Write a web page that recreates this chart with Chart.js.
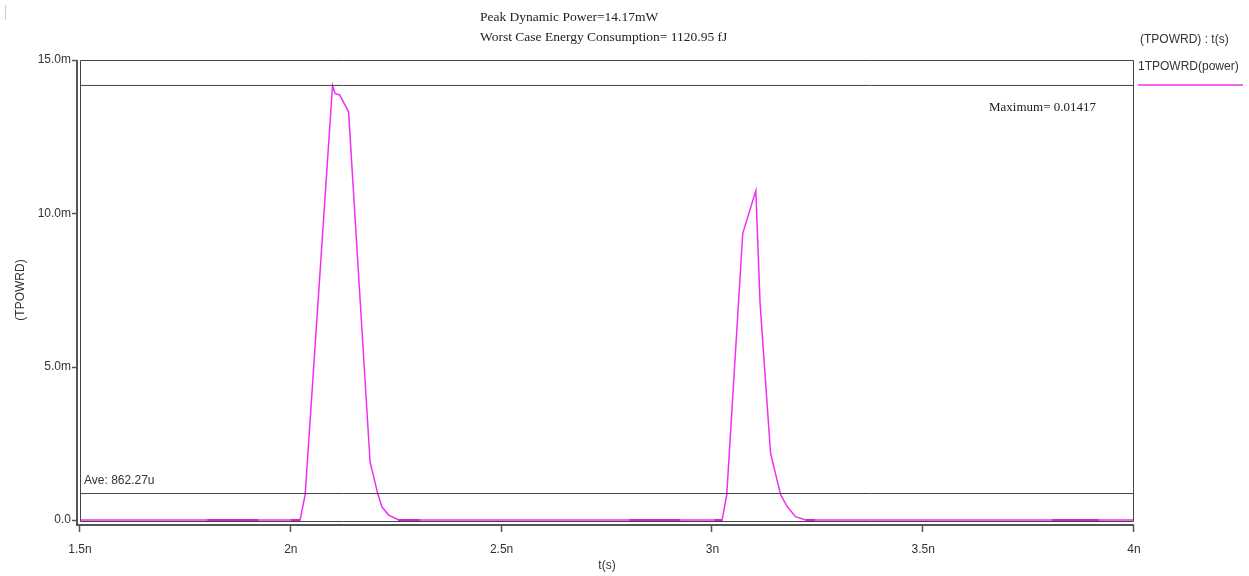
<!DOCTYPE html>
<html>
<head>
<meta charset="utf-8">
<script src="https://cdn.jsdelivr.net/npm/chart.js@4"></script>
<style>
  html, body { margin: 0; padding: 0; background: #fff; }
  #wrap { width: 1249px; height: 576px; position: relative; }
</style>
</head>
<body>
<div id="wrap"><canvas id="powerChart" width="1249" height="576"></canvas></div>
<script>
// Trace 1TPOWRD(power): time in ns, power in mW
const timeNs  = [1.5, 2.022, 2.034, 2.099, 2.105, 2.116, 2.137, 2.188, 2.206, 2.216, 2.232, 2.256,
                 3.023, 3.034, 3.072, 3.103, 3.113, 3.138, 3.162, 3.178, 3.197, 3.221, 4.0];
const powerMw = [0, 0, 0.82, 14.17, 13.91, 13.86, 13.31, 1.90, 0.87, 0.43, 0.16, 0,
                 0, 0.82, 9.35, 10.74, 7.08, 2.17, 0.82, 0.43, 0.11, 0, 0];

// darker overlay segments lying on the zero line (ns)
const darkStartNs = [1.802, 2.001, 2.255, 2.803, 3.005, 3.221, 3.805];
const darkEndNs   = [1.923, 2.022, 2.307, 2.924, 3.024, 3.243, 3.917];

// marker lines
const peakPower = 14.17;    // mW
const avePower = 0.86227;   // mW

// axes
const xTicks = [1.5, 2, 2.5, 3, 3.5, 4];
const xTickLabels = ['1.5n', '2n', '2.5n', '3n', '3.5n', '4n'];
const yTicks = [0, 5, 10, 15];
const yTickLabels = ['0.0', '5.0m', '10.0m', '15.0m'];

const titleLines = ['Peak Dynamic Power=14.17mW', 'Worst Case Energy Consumption= 1120.95 fJ'];

const PINK = '#f030f0';
const DARK = '#7a0a7a';
const LINE = '#444';
const TEXT = '#333';
const SANS = '"Liberation Sans", Arial, sans-serif';
const SERIF = '"Liberation Serif", "Times New Roman", serif';

const traceData = timeNs.map((t, i) => ({ x: t, y: powerMw[i] }));
const darkData = [];
darkStartNs.forEach((s, i) => {
    darkData.push({ x: s, y: 0 }, { x: darkEndNs[i], y: 0 }, { x: darkEndNs[i], y: null });
});
const hLine = v => [{ x: xTicks[0], y: v }, { x: xTicks[xTicks.length - 1], y: v }];

// frame, offset axis lines, tick marks and text notes
const decor = {
    id: 'decor',
    afterDatasetsDraw(chart) {
        const { ctx, chartArea: a, scales: { x, y } } = chart;
        ctx.save();
        ctx.strokeStyle = LINE;
        ctx.lineWidth = 1;
        // plot frame
        ctx.beginPath();
        ctx.moveTo(a.left + 0.5, a.bottom + 1.5);
        ctx.lineTo(a.left + 0.5, a.top + 0.5);
        ctx.lineTo(a.right - 0.5, a.top + 0.5);
        ctx.lineTo(a.right - 0.5, a.bottom + 1.5);
        ctx.lineTo(a.left + 0.5, a.bottom + 1.5);
        ctx.stroke();
        // axis lines
        ctx.strokeStyle = '#555';
        ctx.lineWidth = 2;
        ctx.beginPath();
        ctx.moveTo(a.left - 3, a.top);
        ctx.lineTo(a.left - 3, a.bottom + 5);
        ctx.lineTo(a.right, a.bottom + 5);
        ctx.stroke();
        ctx.lineWidth = 1.5;
        ctx.beginPath();
        xTicks.forEach(v => {
            const px = Math.round(x.getPixelForValue(v)) - 0.5;
            ctx.moveTo(px, a.bottom + 5);
            ctx.lineTo(px, a.bottom + 12);
        });
        yTicks.forEach(v => {
            const py = Math.round(y.getPixelForValue(v)) + 0.5;
            ctx.moveTo(a.left - 3, py);
            ctx.lineTo(a.left - 8, py);
        });
        ctx.stroke();

        // title
        ctx.fillStyle = '#222';
        ctx.font = '13.5px ' + SERIF;
        ctx.textAlign = 'left';
        ctx.textBaseline = 'middle';
        ctx.fillText(titleLines[0], 480, 17);
        ctx.fillText(titleLines[1], 480, 37);
        // max note
        ctx.font = '13px ' + SERIF;
        ctx.fillText('Maximum= ' + (peakPower / 1000).toFixed(5), 989, 108);

        // ave note
        ctx.fillStyle = TEXT;
        ctx.font = '12px ' + SANS;
        ctx.fillText('Ave: ' + (avePower * 1000).toFixed(2) + 'u', a.left + 4, 481);

        // legend
        ctx.fillText('(TPOWRD) : t(s)', 1140, 40);
        ctx.fillText('1TPOWRD(power)', 1138, 67);
        ctx.strokeStyle = PINK;
        ctx.lineWidth = 1.5;
        ctx.beginPath();
        ctx.moveTo(1138, 85);
        ctx.lineTo(1243, 85);
        ctx.stroke();

        // little cursor mark top-left
        ctx.fillStyle = '#ccc';
        ctx.fillRect(5, 5, 1, 15);
        ctx.restore();
    }
};

new Chart(document.getElementById('powerChart'), {
    type: 'line',
    data: {
        datasets: [
            { data: hLine(peakPower), borderColor: LINE, borderWidth: 1, pointRadius: 0 },
            { data: hLine(avePower), borderColor: LINE, borderWidth: 1, pointRadius: 0 },
            { data: traceData, borderColor: PINK, borderWidth: 1.5, pointRadius: 0, clip: 4 },
            { data: darkData, borderColor: DARK, borderWidth: 2, pointRadius: 0, spanGaps: false, clip: 4 }
        ]
    },
    options: {
        responsive: false,
        animation: false,
        events: [],
        layout: { padding: { top: 60, right: 115, bottom: 0, left: 0 } },
        plugins: { legend: { display: false }, tooltip: { enabled: false } },
        scales: {
            x: {
                type: 'linear',
                min: 1.5,
                max: 4,
                afterFit: s => { s.height = 56; },
                afterBuildTicks: s => { s.ticks = xTicks.map(v => ({ value: v })); },
                grid: { display: false, drawTicks: false },
                border: { display: false },
                ticks: {
                    padding: 22,
                    maxRotation: 0,
                    color: TEXT,
                    font: { family: SANS, size: 12 },
                    callback: v => xTickLabels[xTicks.indexOf(v)]
                },
                title: {
                    display: true, text: 't(s)', color: TEXT,
                    font: { family: SANS, size: 12 },
                    padding: { top: 0, bottom: 3 }
                }
            },
            y: {
                min: 0,
                max: 15,
                afterFit: s => { s.width = 80; },
                afterBuildTicks: s => { s.ticks = yTicks.map(v => ({ value: v })); },
                grid: { display: false, drawTicks: false },
                border: { display: false },
                ticks: {
                    padding: 9,
                    color: TEXT,
                    font: { family: SANS, size: 12 },
                    callback: v => yTickLabels[yTicks.indexOf(v)]
                },
                title: {
                    display: true, text: '(TPOWRD)', color: TEXT,
                    font: { family: SANS, size: 12 },
                    padding: { top: 13, bottom: 0 }
                }
            }
        }
    },
    plugins: [decor]
});
</script>
</body>
</html>
